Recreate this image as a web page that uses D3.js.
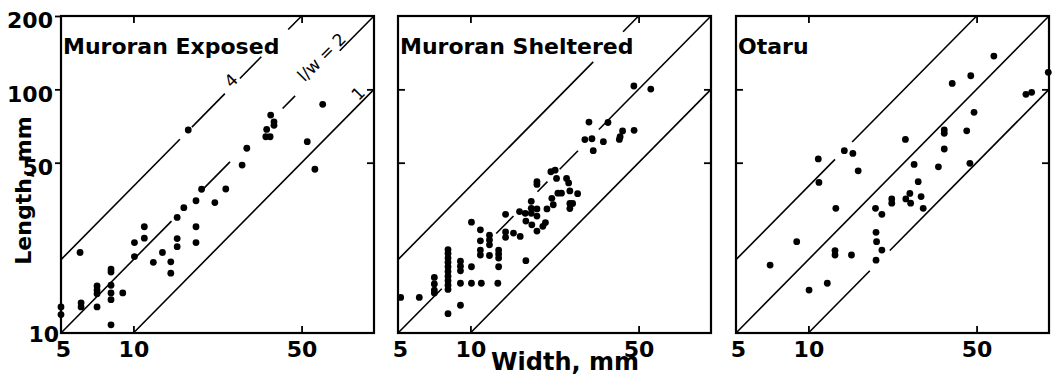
<!DOCTYPE html>
<html><head><meta charset="utf-8">
<script src="https://cdn.jsdelivr.net/npm/d3@7"></script>
<style>body{margin:0;background:#fff}svg{display:block}</style>
</head><body>
<svg id="chart" width="1060" height="380"></svg>
<script>
// ---------- data ----------
const panelTitles = ["Muroran Exposed", "Muroran Sheltered", "Otaru"];
const xDomain = [5, 100];
const yDomain = [10, 200];
const xLabelValues = [5, 10, 50];
const xTickValues = [10, 50];
const yLabelValues = [10, 50, 100, 200];
const yTickValues = [50, 100];
const ratioLines = [4, 2, 1];

// [width, length] in mm
const exposedPoints = [
  [5.0,12.8],[5.0,11.9],[6.0,21.4],[6.06,13.3],[6.06,12.8],[7.06,15.6],[7.06,15.0],[7.06,14.5],
  [7.06,12.8],[8.07,18.3],[8.07,17.8],[8.07,15.7],[8.07,14.6],[8.07,13.7],[8.07,10.8],[9.03,14.6],
  [10.1,23.5],[10.1,20.6],[11.1,27.3],[11.1,24.5],[12.1,19.5],[13.2,21.4],[14.3,19.6],[14.3,17.6],
  [15.2,29.8],[15.2,24.4],[15.2,22.6],[16.2,32.7],[16.9,68.1],[18.2,34.9],[18.2,27.3],[18.2,23.5],
  [19.2,38.9],[21.8,34.3],[24.2,39.0],[28.3,48.9],[29.6,57.3],[35.5,63.9],[35.8,68.5],[37.0,63.9],
  [37.2,78.4],[38.4,73.6],[38.4,71.2],[52.8,61.0],[56.8,47.0],[61.2,86.8]
];
const shelteredPoints = [
  [5.13,14.0],[6.13,14.0],[7.08,16.9],[7.08,15.9],[7.08,15.0],[7.08,14.6],
  [8.07,22.0],[8.07,21.2],[8.07,20.3],[8.07,19.5],[8.07,18.7],[8.07,17.9],[8.07,17.1],[8.07,16.4],
  [8.07,15.7],[8.07,15.1],[8.07,12.0],
  [9.09,19.7],[9.09,18.8],[9.09,18.0],[9.09,16.0],[9.09,13.0],
  [10.1,18.7],[10.1,16.0],[10.1,28.5],[11.1,16.0],[13.0,16.0],
  [11.0,26.5],[11.0,23.9],[11.0,21.9],[11.0,20.9],
  [12.0,25.2],[12.0,24.1],[12.0,23.0],[12.0,20.8],
  [13.1,21.9],[13.1,21.1],[13.1,20.3],[13.1,18.7],
  [14.0,30.7],[14.0,26.0],[14.0,24.7],[15.1,25.7],[16.1,24.9],[17.0,19.8],
  [16.0,31.5],[16.9,31.0],[17.0,28.8],[17.9,34.7],[17.9,32.5],[17.9,31.0],[18.0,27.8],
  [18.9,41.8],[18.9,40.7],[18.9,32.3],[18.9,30.2],[18.9,26.2],
  [20.0,27.4],[20.5,28.4],[20.8,32.3],[21.8,35.7],[22.1,33.6],
  [21.6,45.9],[22.5,46.6],[22.8,43.1],[23.1,37.5],[23.9,37.5],
  [25.1,43.1],[25.6,41.3],[25.9,38.3],[25.9,34.0],[26.6,34.0],[25.9,32.4],[27.9,37.3],
  [29.9,62.2],[31.1,73.4],[32.0,62.7],[32.4,56.0],[35.7,61.0],[37.3,73.1],[41.6,62.3],
  [41.9,63.9],[42.9,67.5],[47.9,67.9],[47.8,103.2],[56.2,100.3]
];
const otaruPoints = [
  [6.93,19.0],[8.94,23.7],[10.06,15.0],[10.99,51.8],[11.06,41.5],[11.98,16.0],[12.9,21.8],[12.9,20.9],
  [13.0,32.5],[14.1,56.0],[15.1,20.9],[15.3,54.6],[16.1,46.3],[19.0,32.5],[19.1,25.9],[19.2,23.7],
  [19.1,19.9],[20.2,30.7],[20.2,21.9],[22.2,35.5],[22.2,34.1],[25.3,62.3],[25.4,35.5],[26.4,37.4],
  [26.6,34.1],[27.5,49.2],[28.6,41.8],[29.4,36.3],[30.0,32.5],[34.7,48.1],[36.7,68.1],[36.7,66.0],
  [36.7,56.9],[39.6,105.8],[45.5,67.6],[46.9,49.7],[47.3,113.7],[48.8,80.5],[59.0,137.0],[80.2,95.4],
  [84.7,97.2],[99.3,117.4]
];

// breaks in the reference lines (width ranges), per panel, per ratio 4 / 2 / 1
const exposedGaps = [[[15.6,17.5],[24,27.7],[34,44]], [[14.4,19.2],[25.2,41.7],[47,72]], []];
const shelteredGaps = [[[32.4,43.1]], [[7.6,12.8],[15.1,19.0],[20.9,23.5],[28.0,34.2]], []];
const otaruGaps = [[[12.9,15.2]], [], [[18.0,21.8]]];

const panelPoints = [exposedPoints, shelteredPoints, otaruPoints];
const panelGaps = [exposedGaps, shelteredGaps, otaruGaps];

// ---------- layout ----------
const panelLeft = [61, 398, 736];
const PW = 313, plotTop = 16, plotBottom = 333;
const FONT = "DejaVu Sans, Liberation Sans, Arial, sans-serif";

const svg = d3.select("#chart");
const y = d3.scaleLog().domain(yDomain).range([plotBottom, plotTop]);

panelTitles.forEach((title, i) => {
  const x = d3.scaleLog().domain(xDomain).range([panelLeft[i], panelLeft[i] + PW]);
  const g = svg.append("g");

  // reference lines l = r * w, with breaks
  ratioLines.forEach((r, k) => {
    const w0 = Math.max(xDomain[0], yDomain[0] / r);
    const w1 = Math.min(xDomain[1], yDomain[1] / r);
    const gaps = panelGaps[i][k].slice().sort((a, b) => a[0] - b[0]);
    let segs = [], cur = w0;
    gaps.forEach(([a, b]) => { if (a > cur) segs.push([cur, a]); cur = Math.max(cur, b); });
    if (cur < w1) segs.push([cur, w1]);
    segs.forEach(([a, b]) => {
      g.append("line")
        .attr("x1", x(a)).attr("y1", y(r * a))
        .attr("x2", x(b)).attr("y2", y(r * b))
        .attr("stroke", "#000").attr("stroke-width", 1.6);
    });
  });

  // frame
  g.append("rect").attr("x", panelLeft[i]).attr("y", plotTop)
    .attr("width", PW).attr("height", plotBottom - plotTop)
    .attr("fill", "none").attr("stroke", "#000").attr("stroke-width", 2.2);

  // inward ticks via axes
  const tickStyle = sel => { sel.select(".domain").remove(); sel.selectAll("line").attr("stroke", "#000").attr("stroke-width", 1.8); };
  g.append("g").attr("transform", `translate(0,${plotBottom})`)
    .call(d3.axisBottom(x).tickValues(xTickValues).tickSize(-7).tickFormat(""))
    .call(tickStyle);
  g.append("g").attr("transform", `translate(0,${plotTop})`)
    .call(d3.axisTop(x).tickValues(xTickValues).tickSize(-7).tickFormat(""))
    .call(tickStyle);
  g.append("g").attr("transform", `translate(${panelLeft[i] + PW},0)`)
    .call(d3.axisRight(y).tickValues(yTickValues).tickSize(-7).tickFormat(""))
    .call(tickStyle);
  if (i === 0) {
    g.append("g").attr("transform", `translate(${panelLeft[i]},0)`)
      .call(d3.axisLeft(y).tickValues([50, 100, 200]).tickSize(6).tickFormat(""))
      .call(tickStyle);
    const yl = g.append("g").attr("transform", `translate(${panelLeft[i]},0)`)
      .call(d3.axisLeft(y).tickValues(yLabelValues).tickSize(0).tickPadding(8).tickFormat(d3.format("d")));
    yl.select(".domain").remove();
    yl.selectAll("text").attr("font-family", FONT).attr("font-weight", "bold")
      .attr("font-size", 22).attr("fill", "#000").attr("dy", "0.36em")
      .attr("y", d => d === 10 ? 1 : 4)
      .attr("x", d => d === 10 ? -2 : -8);
  } else {
    g.append("g").attr("transform", `translate(${panelLeft[i]},0)`)
      .call(d3.axisLeft(y).tickValues(yTickValues).tickSize(-7).tickFormat(""))
      .call(tickStyle);
  }

  // x labels
  const xl = g.append("g").attr("transform", `translate(0,${plotBottom})`)
    .call(d3.axisBottom(x).tickValues(xLabelValues).tickSize(0).tickPadding(8).tickFormat(d3.format("d")));
  xl.select(".domain").remove();
  xl.selectAll("text").attr("font-family", FONT).attr("font-weight", "bold")
    .attr("font-size", 22).attr("fill", "#000")
    .attr("x", d => d === 5 ? 2 : 0);

  // points
  g.selectAll("circle.pt").data(panelPoints[i]).enter().append("circle")
    .attr("class", "pt")
    .attr("cx", d => x(d[0])).attr("cy", d => y(d[1]))
    .attr("r", 3.4).attr("fill", "#000");

  // title
  g.append("text").attr("x", panelLeft[i] + 2).attr("y", 54)
    .attr("font-family", FONT).attr("font-weight", "bold").attr("font-size", 22)
    .attr("fill", "#000").text(title);

  // line labels (first panel only)
  if (i === 0) {
    const lab = [[4, 25, "4", 2, -9], [2, 60, "l/w = 2", 1, -13], [1, 85, "1", 1, -13]];
    lab.forEach(([r, w, t, dx, dy]) => {
      g.append("text")
        .attr("transform", `translate(${x(w) + dx},${y(r * w) + dy}) rotate(-45)`)
        .attr("text-anchor", "middle").attr("dominant-baseline", "central")
        .attr("font-family", FONT).attr("font-size", 17).attr("fill", "#000").text(t);
    });
  }
});

// axis titles
svg.append("text")
  .attr("transform", `translate(31,${(plotTop + plotBottom) / 2 + 16}) rotate(-90)`)
  .attr("text-anchor", "middle")
  .attr("font-family", FONT).attr("font-weight", "bold").attr("font-size", 22)
  .attr("fill", "#000").text("Length, mm");
svg.append("text")
  .attr("x", 565).attr("y", 370).attr("text-anchor", "middle")
  .attr("font-family", FONT).attr("font-weight", "bold").attr("font-size", 24)
  .attr("fill", "#000").text("Width, mm");
</script>
</body></html>
